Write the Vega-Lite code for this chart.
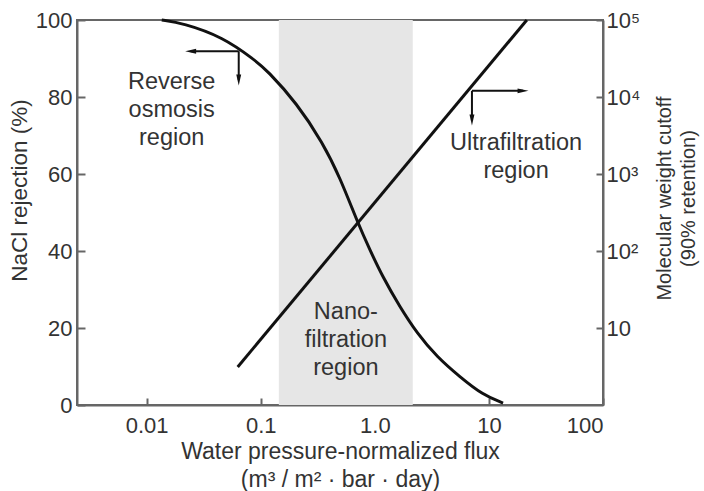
{
  "$schema": "https://vega.github.io/schema/vega-lite/v6.json",
  "width": 526,
  "height": 385,
  "autosize": {"type": "none"},
  "padding": {"left": 77, "top": 20, "right": 101, "bottom": 86},
  "background": "white",
  "config": {
    "view": {"stroke": "#666", "strokeWidth": 2},
    "font": "Liberation Sans",
    "axis": {
      "grid": false,
      "domainColor": "#666",
      "domainWidth": 2,
      "tickColor": "#666",
      "tickWidth": 2,
      "labelFont": "Liberation Sans",
      "labelFontSize": 22,
      "labelColor": "#333",
      "titleFont": "Liberation Sans",
      "titleFontSize": 23,
      "titleFontWeight": "normal",
      "titleColor": "#333",
      "titleLineHeight": 28
    }
  },
  "datasets": {
    "band": [{"x": 0.144, "x2": 2.15}],
    "nacl": [
      {"x": 0.01355, "y": 100},
      {"x": 0.0207, "y": 99.2},
      {"x": 0.0465, "y": 95.6},
      {"x": 0.0886, "y": 89.6},
      {"x": 0.113, "y": 87.0},
      {"x": 0.207, "y": 78.4},
      {"x": 0.35, "y": 68.1},
      {"x": 0.493, "y": 59.2},
      {"x": 0.709, "y": 47.3},
      {"x": 0.904, "y": 40.3},
      {"x": 1.175, "y": 33.2},
      {"x": 1.655, "y": 25.5},
      {"x": 2.335, "y": 18.7},
      {"x": 3.5, "y": 12.5},
      {"x": 5.57, "y": 7.3},
      {"x": 8.85, "y": 2.6},
      {"x": 13.3, "y": 0.5}
    ],
    "mwco": [
      {"x": 0.0628, "y": 3.12},
      {"x": 21.5, "y": 100000}
    ],
    "segments": [
      {"x": 0.0641, "y": 91.9, "x2": 0.0243, "y2": 91.9},
      {"x": 0.0641, "y": 91.9, "x2": 0.0641, "y2": 84.4},
      {"x": 7.1, "y": 81.6, "x2": 19.9, "y2": 81.6},
      {"x": 7.1, "y": 81.6, "x2": 7.1, "y2": 74.0}
    ],
    "heads": [
      {"x": 0.0243, "y": 91.9, "dir": "left"},
      {"x": 0.0641, "y": 84.4, "dir": "down"},
      {"x": 19.9, "y": 81.6, "dir": "right"},
      {"x": 7.1, "y": 74.0, "dir": "down"}
    ],
    "labels": [
      {"x": 0.01656, "y": 83.9, "text": "Reverse\nosmosis\nregion"},
      {"x": 17.3, "y": 68.1, "text": "Ultrafiltration\nregion"},
      {"x": 0.557, "y": 24.2, "text": "Nano-\nfiltration\nregion"}
    ]
  },
  "layer": [
    {
      "layer": [
        {
          "data": {"name": "band"},
          "mark": {"type": "rect", "color": "#e6e6e6"},
          "encoding": {
            "x": {"field": "x", "type": "quantitative", "scale": {"type": "log", "domain": [0.00245, 100], "nice": false}},
            "x2": {"field": "x2"}
          }
        },
        {
          "data": {"name": "nacl"},
          "mark": {"type": "line", "color": "#111", "strokeWidth": 3, "interpolate": "basis"},
          "encoding": {
            "x": {
              "field": "x", "type": "quantitative",
              "scale": {"type": "log", "domain": [0.00245, 100], "nice": false},
              "axis": {
                "values": [0.01, 0.1, 1, 10, 100],
                "labelExpr": "datum.value < 0.05 ? '0.01' : datum.value < 0.5 ? '0.1' : datum.value < 5 ? '1.0' : datum.value < 50 ? '10' : '100'",
                "tickSize": -7,
                "labelPadding": 17,
                "title": ["Water pressure-normalized flux", "(m³ / m² · bar · day)"],
                "titlePadding": 4
              }
            },
            "y": {
              "field": "y", "type": "quantitative",
              "scale": {"domain": [0, 100], "nice": false},
              "axis": {
                "orient": "left",
                "values": [0, 20, 40, 60, 80, 100],
                "tickSize": -8,
                "labelPadding": 13,
                "title": "NaCl rejection (%)",
                "titleFontSize": 22.5,
                "titlePadding": 4,
                "titleY": 170
              }
            }
          }
        },
        {
          "data": {"name": "segments"},
          "mark": {"type": "rule", "color": "#111", "strokeWidth": 2},
          "encoding": {
            "x": {"field": "x", "type": "quantitative"},
            "y": {"field": "y", "type": "quantitative"},
            "x2": {"field": "x2"},
            "y2": {"field": "y2"}
          }
        },
        {
          "data": {"name": "heads"},
          "transform": [{"filter": "datum.dir == 'left'"}],
          "mark": {"type": "point", "shape": "M-1,0 L1,-0.45 L1,0.45 Z", "filled": true, "color": "#111", "size": 120, "opacity": 1},
          "encoding": {
            "x": {"field": "x", "type": "quantitative"},
            "y": {"field": "y", "type": "quantitative"}
          }
        },
        {
          "data": {"name": "heads"},
          "transform": [{"filter": "datum.dir == 'right'"}],
          "mark": {"type": "point", "shape": "M1,0 L-1,-0.45 L-1,0.45 Z", "filled": true, "color": "#111", "size": 120, "opacity": 1},
          "encoding": {
            "x": {"field": "x", "type": "quantitative"},
            "y": {"field": "y", "type": "quantitative"}
          }
        },
        {
          "data": {"name": "heads"},
          "transform": [{"filter": "datum.dir == 'down'"}],
          "mark": {"type": "point", "shape": "M0,1 L-0.45,-1 L0.45,-1 Z", "filled": true, "color": "#111", "size": 120, "opacity": 1},
          "encoding": {
            "x": {"field": "x", "type": "quantitative"},
            "y": {"field": "y", "type": "quantitative"}
          }
        },
        {
          "data": {"name": "labels"},
          "mark": {"type": "text", "font": "Liberation Sans", "fontSize": 23.5, "color": "#333", "align": "center", "baseline": "middle", "lineBreak": "\n", "lineHeight": 28},
          "encoding": {
            "x": {"field": "x", "type": "quantitative"},
            "y": {"field": "y", "type": "quantitative"},
            "text": {"field": "text"}
          }
        }
      ]
    },
    {
      "data": {"name": "mwco"},
      "mark": {"type": "line", "color": "#111", "strokeWidth": 3},
      "encoding": {
        "x": {"field": "x", "type": "quantitative"},
        "y": {
          "field": "y", "type": "quantitative",
          "scale": {"type": "log", "domain": [1, 100000], "nice": false},
          "axis": {
            "orient": "right",
            "values": [10, 100, 1000, 10000, 100000],
            "labelExpr": "datum.value < 50 ? '10' : datum.value < 500 ? '10²' : datum.value < 5000 ? '10³' : datum.value < 50000 ? '10⁴' : '10⁵'",
            "tickSize": -7,
            "labelPadding": 10,
            "title": ["Molecular weight cutoff", "(90% retention)"],
            "titleFontSize": 20,
            "titleLineHeight": 24,
            "titleAngle": 270,
            "titlePadding": 11,
            "titleY": 178
          }
        }
      }
    }
  ],
  "resolve": {"scale": {"y": "independent"}}
}
